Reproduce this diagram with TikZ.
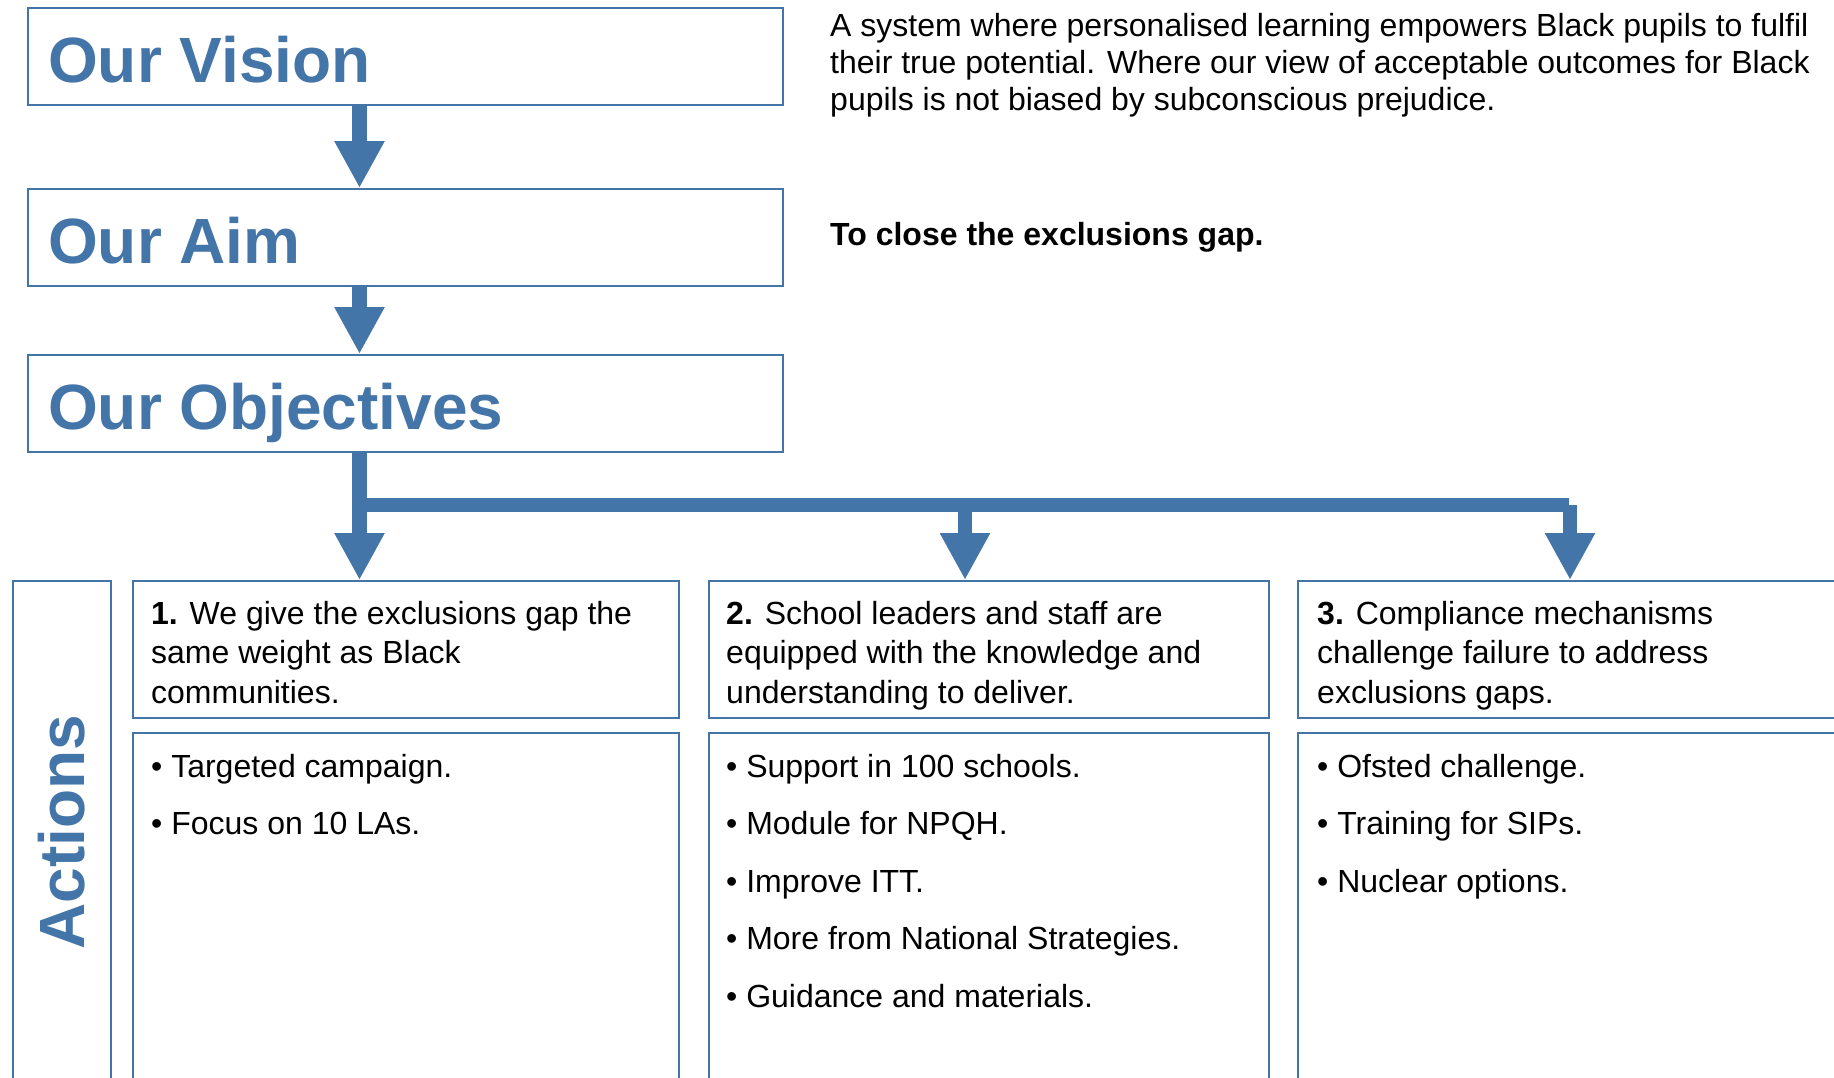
\documentclass[tikz,border=0pt]{standalone}
\usepackage{fontspec}
\setmainfont{Liberation Sans}
\usetikzlibrary{arrows.meta}
\definecolor{dblue}{RGB}{68,117,168}
\begin{document}
\begin{tikzpicture}[x=1pt,y=-1pt,
  box/.style={draw=dblue, line width=1.8pt, inner sep=0pt, anchor=north west},
  head/.style={text=dblue, font=\fontsize{64}{70}\selectfont\bfseries, inner sep=0pt, anchor=base west},
  body/.style={font=\fontsize{32}{37}\selectfont, inner sep=0pt, anchor=base west, align=left},
  title/.style={body, font=\fontsize{32}{39.5}\selectfont},
  bullets/.style={body, font=\fontsize{32}{57.5}\selectfont},
  conn/.style={draw=dblue, line width=14.5pt, -{Triangle[length=47pt,width=47pt]}},
  barline/.style={draw=dblue, line width=14.5pt}
]
\useasboundingbox (0,0) rectangle (1834,1077);
\clip (0,0) rectangle (1834,1077);

% top boxes
\node[box, minimum width=755pt, minimum height=97pt] (vision) at (27,7) {};
\node[box, minimum width=755pt, minimum height=97pt] (aim) at (27,188) {};
\node[box, minimum width=755pt, minimum height=97pt] (obj) at (27,354) {};
\node[head] (visiont) at (48,82) {Our Vision};
\node[head] (aimt) at (48,263) {Our Aim};
\node[head] (objt) at (48,429) {Our Objectives};

% right-hand texts (anchored at the baseline of their last line)
\node[body] (visiontxt) at (830,110) {A system where personalised learning empowers Black pupils to fulfil\\their true potential. Where our view of acceptable outcomes for Black\\pupils is not biased by subconscious prejudice.};
\node[body, font=\fontsize{32}{37}\selectfont\bfseries] (aimtxt) at (830,245) {To close the exclusions gap.};

% actions
\node[box, minimum width=98pt, minimum height=540pt] (actbox) at (12,580) {};
\node[head, rotate=90, anchor=base] (actt) at (84,832) {Actions};

\node[box, minimum width=546pt, minimum height=137pt] (c1top) at (132,580) {};
\node[box, minimum width=546pt, minimum height=400pt] (c1bot) at (132,732) {};
\node[box, minimum width=560pt, minimum height=137pt] (c2top) at (708,580) {};
\node[box, minimum width=560pt, minimum height=400pt] (c2bot) at (708,732) {};
\node[box, minimum width=600pt, minimum height=137pt] (c3top) at (1297,580) {};
\node[box, minimum width=600pt, minimum height=400pt] (c3bot) at (1297,732) {};

\node[title] (c1tt) at (151,703) {\textbf{1.} We give the exclusions gap the\\same weight as Black\\communities.};
\node[title] (c2tt) at (726,703) {\textbf{2.} School leaders and staff are\\equipped with the knowledge and\\understanding to deliver.};
\node[title] (c3tt) at (1317,703) {\textbf{3.} Compliance mechanisms\\challenge failure to address\\exclusions gaps.};

\node[bullets] (c1b) at (151,834.5) {• Targeted campaign.\\• Focus on 10 LAs.};
\node[bullets] (c2b) at (726,1007) {• Support in 100 schools.\\• Module for NPQH.\\• Improve ITT.\\• More from National Strategies.\\• Guidance and materials.};
\node[bullets] (c3b) at (1317,892) {• Ofsted challenge.\\• Training for SIPs.\\• Nuclear options.};

% connectors
\coordinate (ax) at (359.5,0);
\draw[conn] (vision.south -| ax) -- (aim.north -| ax);
\draw[conn] (aim.south -| ax) -- (obj.north -| ax);
\draw[conn] (obj.south -| ax) -- (c1top.north -| ax);
\coordinate (bl) at (359.5,505);
\coordinate (br) at (1569,505);
\draw[barline] (bl) -- (br);
\coordinate (b2) at (965,505);
\coordinate (b3) at (1570,505);
\draw[conn] (b2) -- (b2 |- c2top.north);
\draw[conn] (b3) -- (b3 |- c3top.north);
\end{tikzpicture}
\end{document}
